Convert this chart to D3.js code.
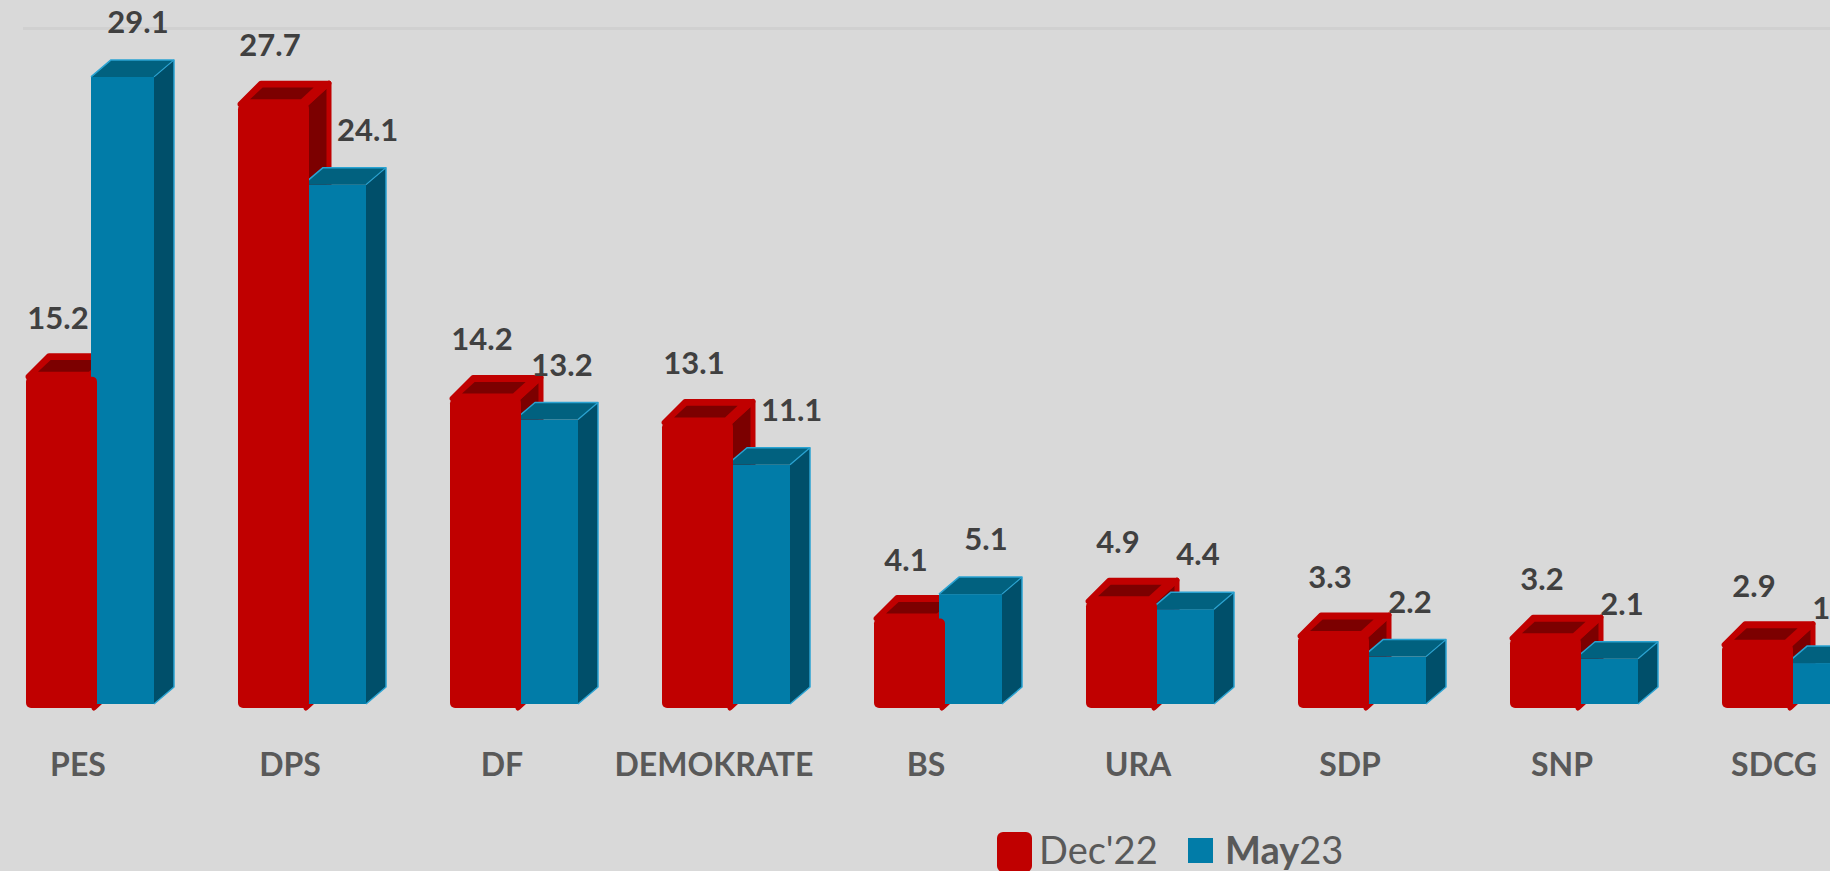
<!DOCTYPE html>
<html><head><meta charset="utf-8">
<script src="https://cdn.jsdelivr.net/npm/d3@7"></script>
<style>html,body{margin:0;padding:0;background:#d9d9d9;overflow:hidden}</style>
</head><body><svg id="c" width="1830" height="871"></svg>
<script>
const categories = ["PES","DPS","DF","DEMOKRATE","BS","URA","SDP","SNP","SDCG"];
const dec22 = [15.2,27.7,14.2,13.1,4.1,4.9,3.3,3.2,2.9];
const may23 = [29.1,24.1,13.2,11.1,5.1,4.4,2.2,2.1,1.9];
const seriesNames = ["Dec'22","May23"];

const W = 1830, H = 871;
const svg = d3.select("#c");
svg.append("rect").attr("width", W).attr("height", H).attr("fill", "#d9d9d9");

// top gridline
svg.append("line").attr("x1", 23).attr("x2", W).attr("y1", 28.5).attr("y2", 28.5)
  .attr("stroke", "#d0d0d0").attr("stroke-width", 3);

const x = d3.scaleBand().domain(categories).range([26, 26 + 212 * categories.length]).padding(0);
const yRed = d3.scaleLinear().domain([0, 30]).range([708, 708 - 30 * 21.8]);
const yBlue = d3.scaleLinear().domain([0, 30]).range([704, 704 - 30 * 21.55]);

const RW = 71, RDX = 23, RDY = 21;
const BW = 63, BDX = 20, BDY = 17, BOFF = 65;
const C = {redF:"#c00000", redD:"#7c0000", blueF:"#017ca8", blueT:"#01617f", blueS:"#004f6a", blueE:"#2aa3d2", lab:"#404040", axis:"#595959"};

const pts = a => a.map(p => p.join(",")).join(" ");
const layer = svg.append("g");
const labelFont = "Lato, 'Open Sans', sans-serif";

categories.forEach((cat, i) => {
  const g = layer.append("g");
  const rx = x(cat), rBase = yRed(0), rTop = yRed(dec22[i]);
  // red side
  g.append("polygon").attr("points", pts([[rx+RW-3, rTop],[rx+RW+RDX-3, rTop-RDY],[rx+RW+RDX-3, rBase-RDY],[rx+RW-3, rBase]]))
    .attr("fill", C.redD).attr("stroke", C.redF).attr("stroke-width", 5).attr("stroke-linejoin", "round");
  // red top
  g.append("polygon").attr("points", pts([[rx+2, rTop],[rx+RDX, rTop-RDY],[rx+RW+RDX-3, rTop-RDY],[rx+RW-3, rTop]]))
    .attr("fill", C.redF).attr("stroke", C.redF).attr("stroke-width", 5).attr("stroke-linejoin", "round");
  const k = 0.55;
  g.append("polygon").attr("points", pts([[rx+12, rTop-5],[rx+12+RDX*k, rTop-5-RDY*k],[rx+RW-8+RDX*k, rTop-5-RDY*k],[rx+RW-8, rTop-5]]))
    .attr("fill", C.redD);

  // blue bar
  const bx = rx + BOFF, bBase = yBlue(0), bTop = yBlue(may23[i]);
  g.append("rect").attr("x", bx).attr("y", bTop).attr("width", BW).attr("height", bBase - bTop).attr("fill", C.blueF);
  g.append("polygon").attr("points", pts([[bx, bTop],[bx+BDX, bTop-BDY],[bx+BW+BDX, bTop-BDY],[bx+BW, bTop]]))
    .attr("fill", C.blueT);
  g.append("polygon").attr("points", pts([[bx+BW, bTop],[bx+BW+BDX, bTop-BDY],[bx+BW+BDX, bBase-BDY],[bx+BW, bBase]]))
    .attr("fill", C.blueS);
  g.append("polyline").attr("points", pts([[bx, bTop],[bx+BDX, bTop-BDY],[bx+BW+BDX, bTop-BDY],[bx+BW+BDX, bBase-BDY],[bx+BW, bBase]]))
    .attr("fill", "none").attr("stroke", C.blueE).attr("stroke-width", 1.5).attr("stroke-linejoin", "round");
  g.append("line").attr("x1", bx+BW).attr("y1", bTop).attr("x2", bx+BW+BDX).attr("y2", bTop-BDY)
    .attr("stroke", C.blueE).attr("stroke-width", 1.2);

  // red front
  g.append("rect").attr("x", rx).attr("y", rTop).attr("width", RW).attr("height", rBase - rTop)
    .attr("rx", 5).attr("fill", C.redF);
});

// data labels
const labs = svg.append("g").attr("font-family", labelFont).attr("font-weight", 700)
  .attr("font-size", 31).attr("fill", C.lab);
categories.forEach((cat, i) => {
  const rx = x(cat), rTop = yRed(dec22[i]);
  labs.append("text").attr("x", rx + 32).attr("y", rTop - 48).attr("text-anchor", "middle").text(dec22[i].toFixed(1));
  const bx = rx + BOFF, bTop = yBlue(may23[i]);
  const t = labs.append("text").attr("y", bTop - 44).attr("text-anchor", "start").text(may23[i].toFixed(1));
  const w = t.node().getComputedTextLength();
  let left = bx + 47 - w / 2;
  const baseY = bTop - 44;
  const redBackTop = rTop - RDY, redRight = rx + RW + RDX;
  if (redBackTop < baseY && left < redRight + 5) left = redRight + 5;
  t.attr("x", left);
});

// category labels
const cats = svg.append("g").attr("font-family", labelFont).attr("font-weight", 700)
  .attr("font-size", 32).attr("fill", C.axis);
categories.forEach(cat => {
  cats.append("text").attr("text-anchor", "middle")
    .attr("x", x(cat) + 52).attr("y", 776).text(cat);
});

// legend
const lg = svg.append("g").attr("font-family", labelFont).attr("fill", C.axis);
lg.append("rect").attr("x", 997).attr("y", 832).attr("width", 35).attr("height", 40).attr("rx", 6).attr("fill", C.redF);
lg.append("text").attr("x", 1039).attr("y", 864).attr("font-size", 38).attr("font-weight", 400).text(seriesNames[0]);
lg.append("rect").attr("x", 1188).attr("y", 838).attr("width", 25).attr("height", 25).attr("fill", C.blueF);
const t2 = lg.append("text").attr("x", 1225).attr("y", 864).attr("font-size", 38);
t2.append("tspan").attr("font-weight", 700).text(seriesNames[1].slice(0, 3));
t2.append("tspan").attr("font-weight", 400).text(seriesNames[1].slice(3));
</script></body></html>
